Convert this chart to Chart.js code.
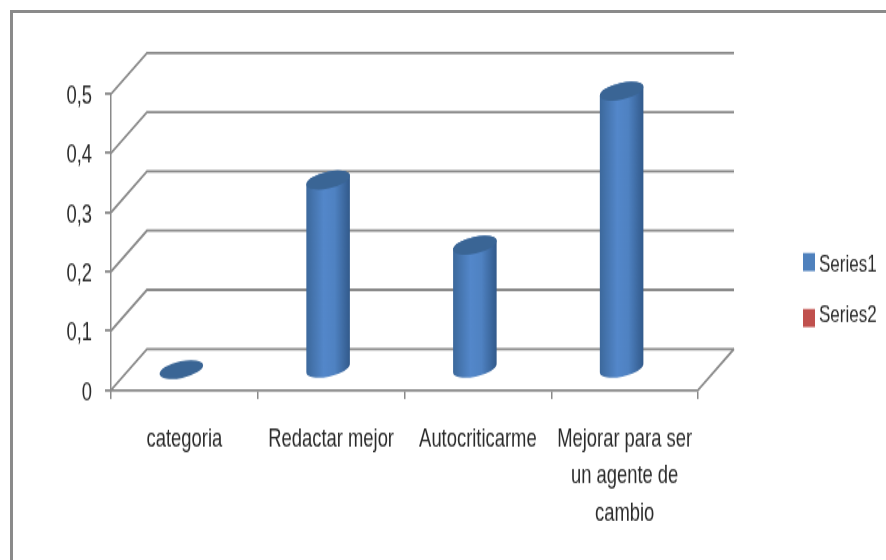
<!DOCTYPE html>
<html>
<head>
<meta charset="utf-8">
<title>Chart</title>
<style>
html,body{margin:0;padding:0;background:#fff;width:886px;height:560px;overflow:hidden}
#frame{position:absolute;left:10px;top:10px;right:0;bottom:0;border-left:3px solid #8a8a8a;border-top:3px solid #8a8a8a}
/* the reference is a picture stretched vertically, so the whole canvas is too */
#wrap{position:absolute;left:0;top:0;width:886px;height:400px;transform:scaleY(1.4);transform-origin:0 0}
</style>
<script src="https://cdn.jsdelivr.net/npm/chart.js@4"></script>
</head>
<body>
<div id="frame"></div>
<div id="wrap"><canvas id="chart" width="886" height="400"></canvas></div>
<script>
const categories = ["categoria", "Redactar mejor", "Autocriticarme", ["Mejorar para ser", "un agente de", "cambio"]];
const series1 = [0, 0.32, 0.21, 0.47];
const series2 = [null, null, null, null];
const seriesNames = ["Series1", "Series2"];
const seriesColors = ["#4F81BD", "#C0504D"];

const FONT = "'Liberation Sans Narrow', 'Liberation Sans', sans-serif";
const GRID = "#8a8a8a";
const TEXT = "#2b2b2b";
// 3d depth of the floor, canvas pixels
const DX = 36, DY = -29.3;

// Walls and floor
const wallPlugin = {
    id: "wall",
    beforeDatasetsDraw(chart) {
        const { ctx, chartArea: a, scales } = chart;
        ctx.save();
        ctx.strokeStyle = GRID;
        ctx.lineWidth = 1.8;
        scales.y.ticks.forEach(t => {
            const y = scales.y.getPixelForValue(t.value);
            ctx.beginPath();
            ctx.moveTo(a.left, y);
            ctx.lineTo(a.left + DX, y + DY);
            ctx.lineTo(a.right + DX, y + DY);
            ctx.stroke();
        });
        ctx.beginPath();
        ctx.moveTo(a.right, a.bottom);
        ctx.lineTo(a.right + DX, a.bottom + DY);
        ctx.stroke();
        ctx.restore();
    }
};

// Bars are drawn as tilted cylinders, half way into the depth
const cylinderPlugin = {
    id: "cylinder",
    beforeDatasetDraw(chart, args) {
        const { ctx } = chart;
        const rot = -0.15, ry = 6;
        const values = chart.data.datasets[args.index].data;
        args.meta.data.forEach((el, i) => {
            if (values[i] === null) return;
            const x = el.x + DX / 2 + 1, top = el.y + DY / 2, base = el.base + DY / 2, rx = el.width / 2;
            ctx.save();
            if (base - top > 0.5) {
                const g = ctx.createLinearGradient(x - rx, 0, x + rx, 0);
                g.addColorStop(0, "#3c689b");
                g.addColorStop(0.4, "#5387ca");
                g.addColorStop(0.65, "#4f82c2");
                g.addColorStop(1, "#31598a");
                ctx.fillStyle = g;
                ctx.beginPath();
                ctx.ellipse(x, base, rx, ry, rot, Math.PI, 0, true);
                ctx.ellipse(x, top, rx, ry, rot, 0, Math.PI, true);
                ctx.closePath();
                ctx.fill();
            }
            ctx.fillStyle = "#3a6595";
            ctx.beginPath();
            ctx.ellipse(x, top, rx, ry, rot, 0, Math.PI * 2);
            ctx.fill();
            ctx.restore();
        });
        return false;
    }
};

// Legend sits away from the plot, its swatches are painted next to the text
const legendPlugin = {
    id: "legendPlace",
    afterLayout(chart) {
        const l = chart.legend;
        const w = l.width, h = l.height;
        l.left = 790.9; l.top = 161; l.right = l.left + w; l.bottom = l.top + h;
    },
    afterDraw(chart) {
        const { ctx } = chart;
        ctx.save();
        chart.legend.legendItems.forEach((item, i) => {
            ctx.fillStyle = item.fillStyle;
            ctx.fillRect(803, 180.7 + i * 40, 12, 12.9);
        });
        ctx.restore();
    }
};

new Chart(document.getElementById("chart"), {
    type: "bar",
    data: {
        labels: categories,
        datasets: [
            { label: seriesNames[0], data: series1, backgroundColor: seriesColors[0] },
            { label: seriesNames[1], data: series2, backgroundColor: seriesColors[1] }
        ]
    },
    plugins: [wallPlugin, cylinderPlugin, legendPlugin],
    options: {
        responsive: false,
        animation: false,
        categoryPercentage: 0.6,
        barPercentage: 1,
        layout: { padding: { left: 0, top: 67.1, right: 188, bottom: 0 } },
        plugins: {
            tooltip: { enabled: false },
            legend: {
                position: "chartArea",
                align: "start",
                labels: { boxWidth: 0, padding: 19.6, color: TEXT, font: { family: FONT, size: 17 } }
            }
        },
        scales: {
            x: {
                afterFit: s => { s.height = 121.4; },
                grid: { drawOnChartArea: false, color: GRID, lineWidth: 1.5, tickLength: 6.4, offset: true },
                border: { color: GRID, width: 1.8 },
                ticks: { maxRotation: 0, autoSkip: false, padding: 15.4, color: TEXT, font: { family: FONT, size: 18.4, lineHeight: 1.44 } }
            },
            y: {
                min: 0,
                max: 0.5,
                afterFit: s => { s.width = 111; },
                grid: { drawOnChartArea: false, color: GRID, lineWidth: 1.8, tickLength: 6 },
                border: { color: GRID, width: 1.5 },
                ticks: {
                    stepSize: 0.1,
                    padding: 13,
                    labelOffset: 2,
                    color: TEXT,
                    font: { family: FONT, size: 18.4 },
                    callback: v => String(+v.toFixed(1)).replace(".", ",")
                }
            }
        }
    }
});
</script>
</body>
</html>
